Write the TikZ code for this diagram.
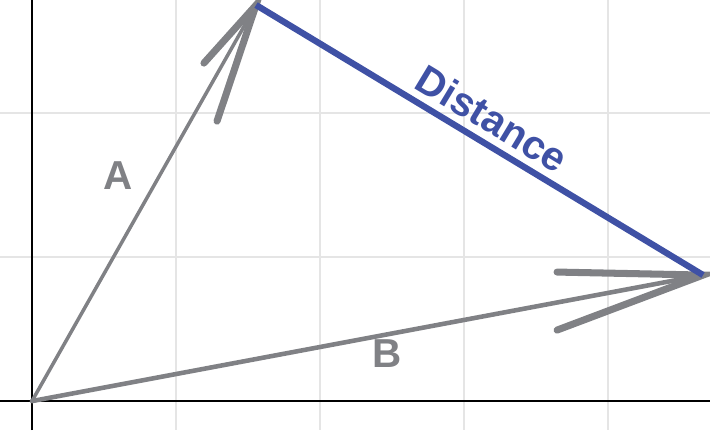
\documentclass[tikz,border=0pt]{standalone}
\usepackage{fontspec}
\setmainfont{Liberation Sans}
\usetikzlibrary{positioning}

\definecolor{vecgray}{RGB}{128,129,133}
\definecolor{distblue}{RGB}{63,81,165}
\definecolor{gridgray}{RGB}{229,229,229}

\begin{document}
\begin{tikzpicture}[x=1.44cm, y=1.44cm,
      vec/.style  = {draw=vecgray,  line width=1.0pt, line cap=round },
      barb/.style = {draw=vecgray,  line width=2.0pt, line cap=round },
      dist/.style = {draw=distblue, line width=1.8pt                 },
      lbl/.style  = {font=\bfseries\fontsize{11.5}{12}\selectfont, inner sep=2pt }, ]

  \useasboundingbox (-0.222,-0.201) rectangle (4.708,2.785);

  % grid and axes
  \draw[gridgray, line width=0.4pt, step=1.44cm] (-0.222,-0.201) grid (4.708,2.785);
  \draw[black,    line width=0.6pt] (-0.222,0) -- (4.708,0)
                                    (0,-0.201) -- (0,2.785);

  \coordinate (O)  at (0,0);
  \coordinate (A)  at (1.556,2.750);
  \coordinate (B)  at (4.660,0.875);
  \coordinate (A1) at (1.194,2.347);
  \coordinate (A2) at (1.285,1.944);
  \coordinate (B1) at (3.646,0.896);
  \coordinate (B2) at (3.646,0.493);

  % vectors
  \draw[vec]                    (O) -- (A);
  \draw[vec, line width=1.3pt]  (O) -- (B);
  \draw[barb] (A1) -- (A) -- (A2);
  \draw[barb] (B1) -- (B) -- (B2);

  \node[lbl, text=vecgray] (labA) at (0.597,1.569) {A};
  \node[lbl, text=vecgray] (labB) at (2.465,0.333) {B};

  % distance
  \draw[dist] (A) -- (B) node[lbl, midway, above, sloped, text=distblue] (labD) {Distance};

\end{tikzpicture}
\end{document}
